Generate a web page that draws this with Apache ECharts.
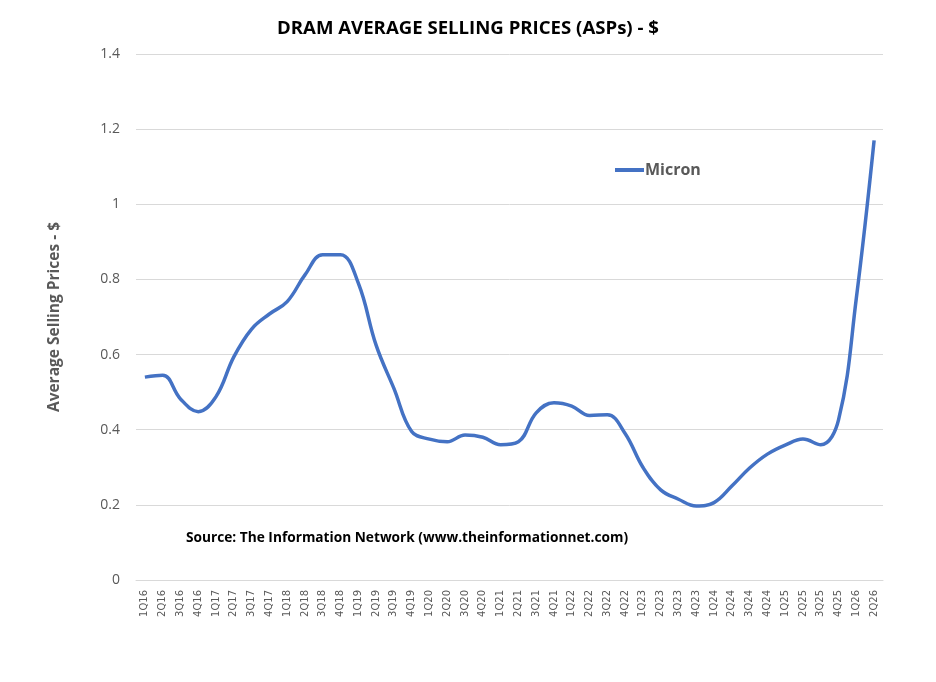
<!DOCTYPE html>
<html>
<head>
<meta charset="utf-8">
<script src="https://cdn.jsdelivr.net/npm/echarts@6/dist/echarts.min.js"></script>
<style>html,body{margin:0;padding:0;background:#fff}#c{width:936px;height:682px}</style>
</head>
<body>
<div id="c"></div>
<script>
const categories = ["1Q16","2Q16","3Q16","4Q16","1Q17","2Q17","3Q17","4Q17","1Q18","2Q18","3Q18","4Q18","1Q19","2Q19","3Q19","4Q19","1Q20","2Q20","3Q20","4Q20","1Q21","2Q21","3Q21","4Q21","1Q22","2Q22","3Q22","4Q22","1Q23","2Q23","3Q23","4Q23","1Q24","2Q24","3Q24","4Q24","1Q25","2Q25","3Q25","4Q25","1Q26","2Q26"];
const micron = [0.54,0.545,0.482,0.448,0.488,0.594,0.668,0.708,0.741,0.812,0.866,0.866,0.79,0.625,0.51,0.395,0.375,0.368,0.386,0.38,0.36,0.368,0.445,0.472,0.463,0.438,0.44,0.39,0.30,0.24,0.215,0.197,0.206,0.25,0.298,0.335,0.359,0.375,0.36,0.426,0.75,1.17];
const yTicks = [0,0.2,0.4,0.6,0.8,1,1.2,1.4];
const titleText = "DRAM AVERAGE SELLING PRICES (ASPs) - $";
const sourceText = "Source: The Information Network (www.theinformationnet.com)";
const yName = "Average Selling Prices - $";
const seriesName = "Micron";

const FONT = "'Open Sans', 'Noto Sans', sans-serif";
const chart = echarts.init(document.getElementById('c'), null, {renderer: 'canvas'});
chart.setOption({
  animation: false,
  backgroundColor: '#ffffff',
  title: {
    text: titleText, left: 'center', top: 14,
    textStyle: {fontFamily: FONT, fontSize: 18.6, fontWeight: 'bold', color: '#000000'}
  },
  legend: {
    data: [seriesName], left: 610, top: 157,
    icon: 'rect', itemWidth: 29, itemHeight: 4, itemGap: 0,
    textStyle: {fontFamily: FONT, fontSize: 16, fontWeight: 'bold', color: '#595959', padding: [0,0,0,-4]}
  },
  grid: {left: 136, right: 53, top: 54, bottom: 102, containLabel: false},
  xAxis: {
    type: 'category', data: categories, boundaryGap: true,
    axisLine: {show: true, lineStyle: {color: '#d9d9d9', width: 1}},
    axisTick: {show: false},
    axisLabel: {rotate: 90, interval: 0, fontFamily: "'DejaVu Sans', sans-serif", fontSize: 10, color: '#595959', margin: 10}
  },
  yAxis: {
    type: 'value', min: 0, max: 1.4, interval: 0.2,
    name: yName, nameLocation: 'middle', nameGap: 73, nameRotate: 90,
    nameTextStyle: {fontFamily: FONT, fontSize: 15.5, fontWeight: 'bold', color: '#595959'},
    axisLine: {show: false}, axisTick: {show: false},
    axisLabel: {fontFamily: FONT, fontSize: 14, color: '#595959', margin: 16,
      formatter: v => { const t = yTicks.find(x => Math.abs(x - v) < 1e-9); return t === undefined ? '' : String(t); }},
    splitLine: {lineStyle: {color: '#d9d9d9', width: 1}}
  },
  graphic: [{
    type: 'text', left: 186, top: 531,
    style: {text: sourceText, fontFamily: FONT, fontSize: 13.7, fontWeight: 'bold', fill: '#000000'}
  }],
  series: [{
    name: seriesName, type: 'line', data: micron,
    smooth: 0.4, symbol: 'none',
    lineStyle: {color: '#4472C4', width: 3.5},
    itemStyle: {color: '#4472C4'}
  }]
});
</script>
</body>
</html>
